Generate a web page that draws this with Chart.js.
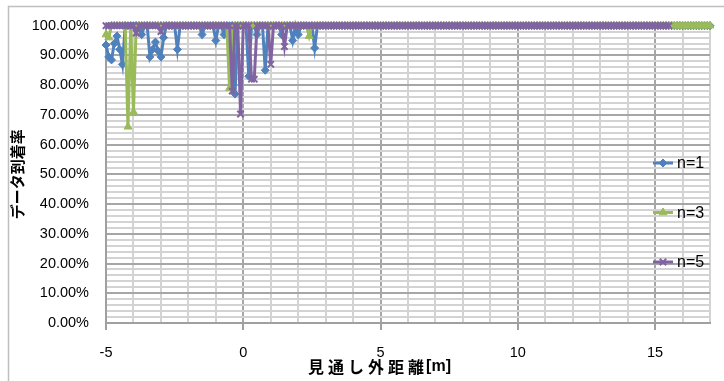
<!DOCTYPE html>
<html>
<head>
<meta charset="utf-8">
<script src="https://cdn.jsdelivr.net/npm/chart.js@4/dist/chart.umd.min.js"></script>
<style>
  html, body { margin: 0; padding: 0; background: #ffffff; }
  #wrap { width: 724px; height: 381px; position: relative; }
  canvas { display: block; }
</style>
</head>
<body>
<div id="wrap"><canvas id="chart" width="724" height="381"></canvas></div>
<script>
// 見通し外距離 [m]
const distances = [
  -5, -4.9, -4.8, -4.7, -4.6, -4.5, -4.4, -4.3, -4.2, -4.1,
  -4, -3.9, -3.8, -3.7, -3.6, -3.5, -3.4, -3.3, -3.2, -3.1,
  -3, -2.9, -2.8, -2.7, -2.6, -2.5, -2.4, -2.3, -2.2, -2.1,
  -2, -1.9, -1.8, -1.7, -1.6, -1.5, -1.4, -1.3, -1.2, -1.1,
  -1, -0.9, -0.8, -0.7, -0.6, -0.5, -0.4, -0.3, -0.2, -0.1,
  0, 0.1, 0.2, 0.3, 0.4, 0.5, 0.6, 0.7, 0.8, 0.9,
  1, 1.1, 1.2, 1.3, 1.4, 1.5, 1.6, 1.7, 1.8, 1.9,
  2, 2.1, 2.2, 2.3, 2.4, 2.5, 2.6, 2.7, 2.8, 2.9,
  3, 3.1, 3.2, 3.3, 3.4, 3.5, 3.6, 3.7, 3.8, 3.9,
  4, 4.1, 4.2, 4.3, 4.4, 4.5, 4.6, 4.7, 4.8, 4.9,
  5, 5.1, 5.2, 5.3, 5.4, 5.5, 5.6, 5.7, 5.8, 5.9,
  6, 6.1, 6.2, 6.3, 6.4, 6.5, 6.6, 6.7, 6.8, 6.9,
  7, 7.1, 7.2, 7.3, 7.4, 7.5, 7.6, 7.7, 7.8, 7.9,
  8, 8.1, 8.2, 8.3, 8.4, 8.5, 8.6, 8.7, 8.8, 8.9,
  9, 9.1, 9.2, 9.3, 9.4, 9.5, 9.6, 9.7, 9.8, 9.9,
  10, 10.1, 10.2, 10.3, 10.4, 10.5, 10.6, 10.7, 10.8, 10.9,
  11, 11.1, 11.2, 11.3, 11.4, 11.5, 11.6, 11.7, 11.8, 11.9,
  12, 12.1, 12.2, 12.3, 12.4, 12.5, 12.6, 12.7, 12.8, 12.9,
  13, 13.1, 13.2, 13.3, 13.4, 13.5, 13.6, 13.7, 13.8, 13.9,
  14, 14.1, 14.2, 14.3, 14.4, 14.5, 14.6, 14.7, 14.8, 14.9,
  15, 15.1, 15.2, 15.3, 15.4, 15.5, 15.6, 15.7, 15.8, 15.9,
  16, 16.1, 16.2, 16.3, 16.4, 16.5, 16.6, 16.7, 16.8, 16.9,
  17
];

// データ到着率 [%], n=1
const arrivalN1 = [
  93.5, 89.5, 88.5, 94, 96.5, 92, 87, 100, 100, 100,
  100, 100, 100, 97, 100, 100, 89.5, 92, 94.5, 91.5,
  89.5, 96, 100, 100, 100, 100, 92, 100, 100, 100,
  100, 100, 100, 100, 100, 97, 100, 100, 100, 100,
  95, 100, 100, 97, 100, 100, 100, 77, 100, 100,
  100, 100, 83, 100, 100, 97, 100, 100, 85, 100,
  100, 100, 100, 100, 97, 100, 100, 100, 95, 100,
  97, 100, 100, 100, 100, 100, 92.5, 100, 100, 100,
  100, 100, 100, 100, 100, 100, 100, 100, 100, 100,
  100, 100, 100, 100, 100, 100, 100, 100, 100, 100,
  100, 100, 100, 100, 100, 100, 100, 100, 100, 100,
  100, 100, 100, 100, 100, 100, 100, 100, 100, 100,
  100, 100, 100, 100, 100, 100, 100, 100, 100, 100,
  100, 100, 100, 100, 100, 100, 100, 100, 100, 100,
  100, 100, 100, 100, 100, 100, 100, 100, 100, 100,
  100, 100, 100, 100, 100, 100, 100, 100, 100, 100,
  100, 100, 100, 100, 100, 100, 100, 100, 100, 100,
  100, 100, 100, 100, 100, 100, 100, 100, 100, 100,
  100, 100, 100, 100, 100, 100, 100, 100, 100, 100,
  100, 100, 100, 100, 100, 100, 100, 100, 100, 100,
  100, 100, 100, 100, 100, 100, 100, 100, 100, 100,
  100, 100, 100, 100, 100, 100, 100, 100, 100, 100,
  100
];

// データ到着率 [%], n=3
const arrivalN3 = [
  97, 96, 100, 100, 100, 100, 100, 100, 66, 100,
  71, 100, 100, 100, 100, 100, 100, 100, 100, 100,
  100, 100, 100, 100, 100, 100, 100, 100, 100, 100,
  100, 100, 100, 100, 100, 100, 100, 100, 100, 100,
  100, 100, 100, 100, 100, 79, 100, 100, 100, 100,
  100, 100, 100, 100, 100, 100, 100, 100, 100, 100,
  100, 100, 100, 100, 100, 100, 100, 100, 100, 100,
  100, 100, 100, 100, 96.5, 100, 100, 100, 100, 100,
  100, 100, 100, 100, 100, 100, 100, 100, 100, 100,
  100, 100, 100, 100, 100, 100, 100, 100, 100, 100,
  100, 100, 100, 100, 100, 100, 100, 100, 100, 100,
  100, 100, 100, 100, 100, 100, 100, 100, 100, 100,
  100, 100, 100, 100, 100, 100, 100, 100, 100, 100,
  100, 100, 100, 100, 100, 100, 100, 100, 100, 100,
  100, 100, 100, 100, 100, 100, 100, 100, 100, 100,
  100, 100, 100, 100, 100, 100, 100, 100, 100, 100,
  100, 100, 100, 100, 100, 100, 100, 100, 100, 100,
  100, 100, 100, 100, 100, 100, 100, 100, 100, 100,
  100, 100, 100, 100, 100, 100, 100, 100, 100, 100,
  100, 100, 100, 100, 100, 100, 100, 100, 100, 100,
  100, 100, 100, 100, 100, 100, 100, 100, 100, 100,
  100, 100, 100, 100, 100, 100, 100, 100, 100, 100,
  100
];

// データ到着率 [%], n=5 (measured up to 15.5 m)
const arrivalN5 = [
  100, 100, 100, 100, 100, 100, 100, 100, 100, 100,
  100, 97.5, 100, 100, 100, 100, 100, 100, 100, 100,
  98, 100, 100, 100, 100, 100, 100, 100, 100, 100,
  100, 100, 100, 100, 100, 100, 100, 100, 100, 100,
  100, 100, 100, 100, 100, 100, 78, 100, 100, 70.3,
  100, 100, 100, 82, 82, 100, 100, 100, 100, 100,
  87, 100, 100, 100, 100, 93, 100, 100, 100, 100,
  100, 100, 100, 100, 100, 100, 100, 100, 100, 100,
  100, 100, 100, 100, 100, 100, 100, 100, 100, 100,
  100, 100, 100, 100, 100, 100, 100, 100, 100, 100,
  100, 100, 100, 100, 100, 100, 100, 100, 100, 100,
  100, 100, 100, 100, 100, 100, 100, 100, 100, 100,
  100, 100, 100, 100, 100, 100, 100, 100, 100, 100,
  100, 100, 100, 100, 100, 100, 100, 100, 100, 100,
  100, 100, 100, 100, 100, 100, 100, 100, 100, 100,
  100, 100, 100, 100, 100, 100, 100, 100, 100, 100,
  100, 100, 100, 100, 100, 100, 100, 100, 100, 100,
  100, 100, 100, 100, 100, 100, 100, 100, 100, 100,
  100, 100, 100, 100, 100, 100, 100, 100, 100, 100,
  100, 100, 100, 100, 100, 100, 100, 100, 100, 100,
  100, 100, 100, 100, 100, 100
];

const seriesNames = ['n=1', 'n=3', 'n=5'];
const xTickLabels = [-5, 0, 5, 10, 15];
const yTickLabels = [0, 10, 20, 30, 40, 50, 60, 70, 80, 90, 100];
const xTitle = '見通し外距離';
const xUnit = '[m]';
const yTitle = 'データ到着率';

const COLORS = ['#4F81BD', '#9BBB59', '#8064A2'];
const STYLES = ['rectRot', 'triangle', 'crossRot'];
const TICK_FONT = { family: "'Liberation Sans', Arial, sans-serif", size: 14.5 };

function toPoints(values) {
  return values.map((v, i) => ({ x: distances[i], y: v }));
}

function makeSeries(idx, values, radius, bw) {
  return {
    label: seriesNames[idx],
    data: toPoints(values),
    borderColor: COLORS[idx],
    backgroundColor: COLORS[idx],
    pointBackgroundColor: COLORS[idx],
    pointBorderColor: COLORS[idx],
    pointStyle: STYLES[idx],
    pointRadius: radius,
    pointBorderWidth: bw,
    borderWidth: 3,
    tension: 0,
    clip: false,
    order: 2 - idx
  };
}

// white background + outer frame
const framePlugin = {
  id: 'frame',
  beforeDraw(chart) {
    const ctx = chart.ctx;
    ctx.save();
    ctx.fillStyle = '#ffffff';
    ctx.fillRect(0, 0, chart.width, chart.height);
    ctx.strokeStyle = '#BFBFBF';
    ctx.lineWidth = 1.5;
    ctx.strokeRect(8.5, 6.5, chart.width + 10, chart.height + 10);
    ctx.restore();
  }
};

// axis titles
const titlePlugin = {
  id: 'axisTitles',
  afterDraw(chart) {
    const ctx = chart.ctx;
    const area = chart.chartArea;
    ctx.save();
    ctx.fillStyle = '#000000';
    ctx.textBaseline = 'middle';
    ctx.textAlign = 'left';
    // x title
    const cjkFont = "bold 16px 'Noto Sans CJK JP', sans-serif";
    const latinFont = "bold 16px 'Liberation Sans', Arial, sans-serif";
    ctx.font = cjkFont;
    ctx.letterSpacing = '4px';
    const w1 = ctx.measureText(xTitle).width;
    ctx.letterSpacing = '0px';
    ctx.font = latinFont;
    const w2 = ctx.measureText(xUnit).width;
    const cx = chart.scales.x.getPixelForValue(5);
    const sx = cx - (w1 + w2) / 2;
    ctx.font = cjkFont;
    ctx.letterSpacing = '4px';
    ctx.fillText(xTitle, sx, 367);
    ctx.letterSpacing = '0px';
    ctx.font = latinFont;
    ctx.fillText(xUnit, sx + w1 - 2, 367);
    // y title
    ctx.translate(17, (area.top + area.bottom) / 2);
    ctx.rotate(-Math.PI / 2);
    ctx.textAlign = 'center';
    ctx.font = "bold 15px 'Noto Sans CJK JP', sans-serif";
    ctx.fillText(yTitle, 0, 0);
    ctx.restore();
  }
};

// legend at the right side, over the plot
const legendPlugin = {
  id: 'sideLegend',
  afterDraw(chart) {
    const ctx = chart.ctx;
    const x0 = 653, y0 = 163, gap = 49.5;
    chart.data.datasets.forEach((ds, i) => {
      const y = y0 + i * gap;
      ctx.save();
      ctx.strokeStyle = ds.borderColor;
      ctx.fillStyle = ds.borderColor;
      ctx.lineWidth = 3;
      ctx.beginPath();
      ctx.moveTo(x0, y);
      ctx.lineTo(x0 + 20, y);
      ctx.stroke();
      ctx.lineWidth = ds.pointBorderWidth;
      Chart.helpers.drawPoint(ctx, {
        pointStyle: ds.pointStyle,
        radius: ds.pointRadius,
        borderWidth: ds.pointBorderWidth,
        rotation: 0
      }, x0 + 10, y);
      ctx.fillStyle = '#000000';
      ctx.font = "16px 'Liberation Sans', Arial, sans-serif";
      ctx.textAlign = 'left';
      ctx.textBaseline = 'middle';
      ctx.fillText(ds.label, x0 + 24, y + 1);
      ctx.restore();
    });
  }
};

new Chart(document.getElementById('chart'), {
  type: 'line',
  data: {
    datasets: [
      makeSeries(0, arrivalN1, 4, 1),
      makeSeries(1, arrivalN3, 4.5, 1),
      makeSeries(2, arrivalN5, 4.5, 2)
    ]
  },
  options: {
    responsive: false,
    animation: false,
    devicePixelRatio: 1,
    layout: { padding: { top: 20, right: 6, left: 0, bottom: 0 } },
    plugins: {
      legend: { display: false },
      tooltip: { enabled: false }
    },
    scales: {
      x: {
        type: 'linear',
        min: -5,
        max: 17,
        afterFit(scale) { scale.height = 58; },
        border: { color: '#A0A0A0', width: 2 },
        grid: {
          lineWidth: 2,
          color: (c) => (xTickLabels.includes(c.tick.value) ? '#A6A6A6' : '#D3D3D3'),
          tickColor: (c) => (xTickLabels.includes(c.tick.value) ? '#A0A0A0' : 'rgba(0,0,0,0)'),
          tickLength: 7,
          tickWidth: 2
        },
        ticks: {
          stepSize: 1,
          autoSkip: false,
          maxRotation: 0,
          padding: 14,
          color: '#000000',
          font: TICK_FONT,
          callback: (v) => (xTickLabels.includes(v) ? String(v) : '')
        }
      },
      y: {
        min: 0,
        max: 100,
        afterFit(scale) { scale.width = 106; },
        border: { color: '#A0A0A0', width: 2 },
        grid: {
          lineWidth: 2,
          drawTicks: false,
          color: (c) => (yTickLabels.includes(c.tick.value) ? '#A6A6A6' : '#D3D3D3')
        },
        ticks: {
          stepSize: 2,
          autoSkip: false,
          padding: 17,
          color: '#000000',
          font: TICK_FONT,
          callback: (v) => (yTickLabels.includes(v) ? v.toFixed(2) + '%' : '')
        }
      }
    }
  },
  plugins: [framePlugin, titlePlugin, legendPlugin]
});
</script>
</body>
</html>
